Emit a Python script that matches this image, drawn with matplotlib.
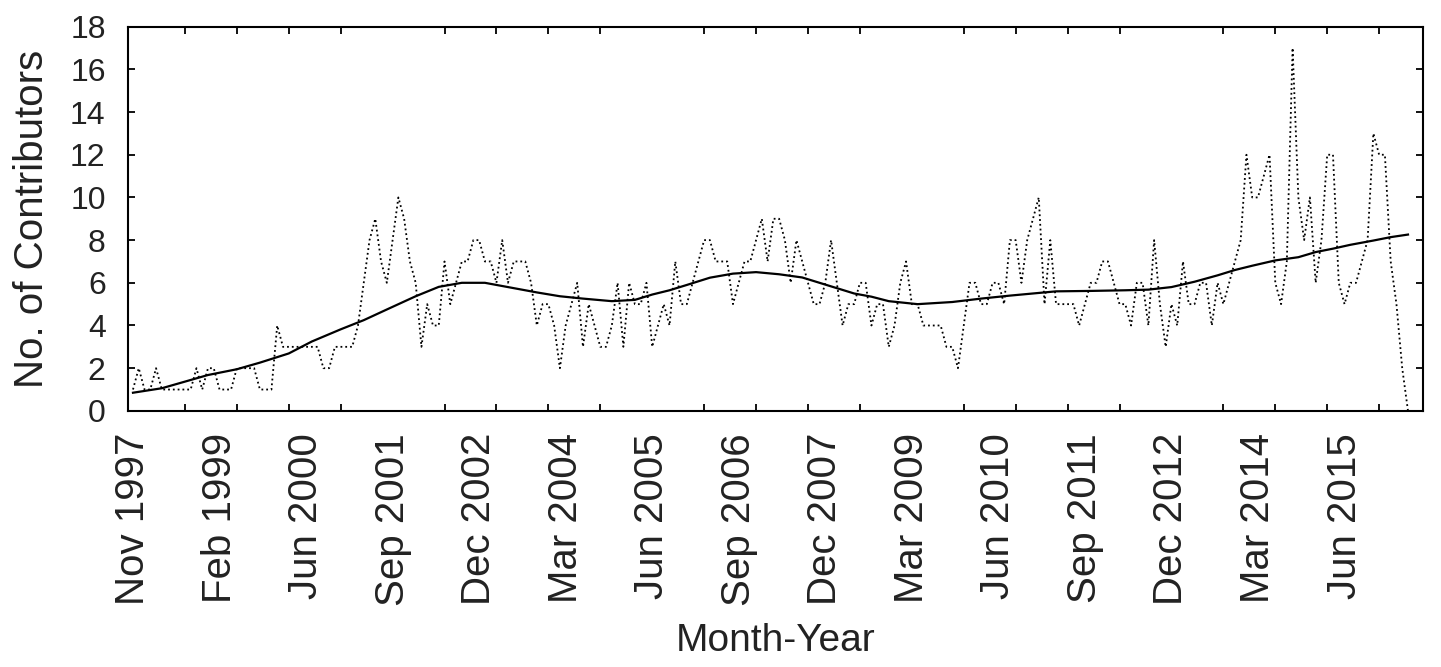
import numpy as np
import matplotlib.pyplot as plt

plt.rcParams['font.family'] = ['Liberation Sans', 'DejaVu Sans']

# monthly number of contributors, Nov 1997 onwards
contributors = [
    1, 2, 1, 1, 2, 1, 1, 1, 1, 1, 1, 2, 1, 2, 2, 1, 1, 1, 2, 2, 2, 2, 1, 1, 1, 4,
    3, 3, 3, 3, 3, 3, 3, 2, 2, 3, 3, 3, 3, 4, 6, 8, 9, 7, 6, 8, 10, 9, 7, 6, 3, 5, 4, 4, 7, 5,
    6, 7, 7, 8, 8, 7, 7, 6, 8, 6, 7, 7, 7, 6, 4, 5, 5, 4, 2, 4, 5, 6, 3, 5, 4, 3, 3, 4, 6, 3,
    6, 5, 5, 6, 3, 4, 5, 4, 7, 5, 5, 6, 7, 8, 8, 7, 7, 7, 5, 6, 7, 7, 8, 9, 7, 9,
    9, 8, 6, 8, 7, 6, 5, 5, 6, 8, 6, 4, 5, 5, 6, 6, 4, 5, 5, 3, 4, 6, 7, 5, 5, 4, 4, 4, 4, 3,
    3, 2, 4, 6, 6, 5, 5, 6, 6, 5, 8, 8, 6, 8, 9, 10, 5, 8, 5, 5, 5, 5, 4, 5, 6, 6, 7,
    7, 6, 5, 5, 4, 6, 6, 4, 8, 5, 3, 5, 4, 7, 5, 5, 6, 6, 4, 6, 5, 6, 7, 8, 12, 10, 10, 11, 12,
    6, 5, 7, 17, 10, 8, 10, 6, 8, 12, 12, 6, 5, 6, 6, 7, 8, 13, 12, 12, 7, 5, 2, 0,
]

# fitted trend line, sampled along the curve
trend_month = [0, 5, 9, 13, 18, 22, 27, 31, 36, 40, 44, 49, 53, 57, 61, 64, 67, 70, 74,
               78, 83, 87, 90, 93, 96, 100, 104, 108, 112, 116, 119, 122, 125, 128, 131,
               136, 142, 147, 152, 156, 160, 166, 172, 176, 180, 184, 188, 191, 194, 198,
               202, 205, 208, 211, 215, 218, 221]
trend_value = [0.85, 1.06, 1.37, 1.68, 1.95, 2.26, 2.69, 3.25, 3.82, 4.25, 4.75, 5.37, 5.81,
               6.0, 6.0, 5.85, 5.7, 5.55, 5.37, 5.26, 5.14, 5.2, 5.45, 5.65, 5.9, 6.24, 6.43,
               6.5, 6.4, 6.25, 6.0, 5.75, 5.5, 5.35, 5.14, 5.0, 5.1, 5.26, 5.4, 5.5, 5.6,
               5.62, 5.65, 5.68, 5.8, 6.05, 6.35, 6.6, 6.8, 7.05, 7.2, 7.44, 7.6, 7.78, 7.98,
               8.14, 8.26]

label_month = [0, 15, 30, 45, 60, 75, 90, 105, 120, 135, 150, 165, 180, 195, 210]
month_labels = ['Nov 1997', 'Feb 1999', 'Jun 2000', 'Sep 2001', 'Dec 2002', 'Mar 2004',
                'Jun 2005', 'Sep 2006', 'Dec 2007', 'Mar 2009', 'Jun 2010', 'Sep 2011',
                'Dec 2012', 'Mar 2014', 'Jun 2015']

fig = plt.figure(figsize=(14.41, 6.67), dpi=100)
ax = fig.add_axes([0.0888, 0.384, 0.8987, 0.576])

months = np.arange(len(contributors))
ax.plot(months, contributors, ':', color='black', lw=1.3)
ax.plot(trend_month, trend_value, '-', color='black', lw=1.6)

ax.set_xlim(-0.87, 223.6)
ax.set_ylim(0, 18)
ax.set_yticks(range(0, 19, 2))

ax.set_xticks(label_month)
ax.set_xticklabels(month_labels, rotation=90)
ax.set_xticks(np.arange(0, 220, 9), minor=True)
ax.tick_params(axis='x', which='major', length=0, pad=16, labelsize=29, labelcolor='#222222')
ax.tick_params(axis='x', which='minor', direction='in', length=5, top=True, width=1.3)
ax.tick_params(axis='y', direction='in', length=5, right=True, width=1.3, labelsize=23,
               pad=16, labelcolor='#222222')

for s in ax.spines.values():
    s.set_linewidth(1.5)

ax.set_ylabel('No. of Contributors', fontsize=29, labelpad=14, color='#222222')
ax.set_xlabel('Month-Year', fontsize=28, labelpad=12, color='#222222')

fig.savefig('out.png')
